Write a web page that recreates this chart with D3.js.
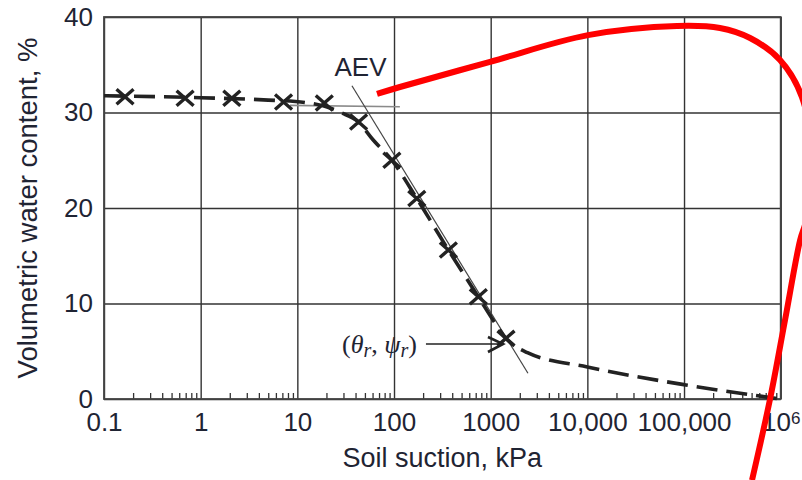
<!DOCTYPE html>
<html>
<head>
<meta charset="utf-8">
<script src="https://cdn.jsdelivr.net/npm/d3@7"></script>
<style>
  body { margin: 0; background: #fff; }
  text { font-family: "Liberation Sans", Arial, sans-serif; fill: #1f2433; }
</style>
</head>
<body>
<div class="canvas"></div>
<script>
// measured points (x marks)
const suction = [0.165, 0.69, 2.1, 7.2, 19, 43, 95, 172, 365, 745, 1440];
const theta = [31.65, 31.5, 31.5, 31.1, 31.0, 29.0, 25.0, 21.0, 15.6, 10.7, 6.35];

// fitted dashed curve
const curveSuction = [0.1, 1, 5, 12, 20, 28, 43, 60, 95, 172, 365, 745, 1100, 1440, 2400, 10000, 100000, 1e6];
const curveTheta = [31.75, 31.55, 31.3, 31.05, 30.6, 30.0, 29.0, 27.2, 25.0, 21.0, 15.6, 10.7, 8.0, 6.35, 4.85, 3.35, 1.5, 0];

// construction lines for AEV
const flatSuction = [8.4, 115];
const flatTheta = [30.75, 30.6];
const steepSuction = [36.7, 2430];
const steepTheta = [32.8, 2.7];

// residual point arrow
const arrowSuction = [214, 1340];
const arrowTheta = [5.76, 5.76];

// red hand-drawn annotation
const redSuction = [66.7, 115, 984, 10160, 84500, 235000, 482000, 984000, 1.66e6, 2.11e6, 1.83e6, 1.585e6, 1.11e6, 776000, 505000];
const redTheta = [31.94, 32.67, 35.3, 38.1, 39.06, 38.85, 37.8, 35.5, 31.6, 25.0, 18.7, 16.6, 8.3, 0, -8.5];

const xTicks = [0.1, 1, 10, 100, 1000, 10000, 100000, 1e6];
const xTickLabels = ['0.1', '1', '10', '100', '1000', '10,000', '100,000', '10'];
const yTicks = [0, 10, 20, 30, 40];

const W = 802, H = 480;
const plot = { left: 104, right: 780.7, top: 17, bottom: 399 };

const svg = d3.select('.canvas')
  .append('svg')
  .attr('width', W)
  .attr('height', H);

const x = d3.scaleLog().domain([0.1, 1e6]).range([plot.left, plot.right]);
const y = d3.scaleLinear().domain([0, 40]).range([plot.bottom, plot.top]);

const zip = (a, b) => a.map((v, i) => [v, b[i]]);

// grid + x labels
const gx = svg.append('g')
  .attr('transform', `translate(0, ${plot.bottom})`)
  .call(d3.axisBottom(x)
    .tickValues(xTicks)
    .tickSize(-(plot.bottom - plot.top))
    .tickPadding(14)
    .tickFormat((d, i) => xTickLabels[i]));

gx.select('.domain').remove();
gx.selectAll('.tick line').attr('stroke', '#333').attr('stroke-width', 1.4);
gx.selectAll('.tick text')
  .attr('font-size', 26)
  .attr('fill', '#1f2433')
  .style('font-family', '"Liberation Sans", Arial, sans-serif');
gx.selectAll('.tick text')
  .filter(d => d === 1e6)
  .append('tspan')
  .attr('dy', '-0.46em')
  .attr('font-size', 17)
  .text('6');

// minor ticks 2..9 in each decade
const minor = [];
for (let e = -1; e < 6; e++) {
  for (let m = 2; m <= 9; m++) minor.push(m * Math.pow(10, e));
}
const gm = svg.append('g')
  .attr('transform', `translate(0, ${plot.bottom})`)
  .call(d3.axisBottom(x).tickValues(minor).tickSize(-6).tickFormat(''));
gm.select('.domain').remove();
gm.selectAll('.tick line').attr('stroke', '#333').attr('stroke-width', 1.3);

const gy = svg.append('g')
  .attr('transform', `translate(${plot.left}, 0)`)
  .call(d3.axisLeft(y)
    .tickValues(yTicks)
    .tickSize(-(plot.right - plot.left))
    .tickPadding(11));
gy.select('.domain').remove();
gy.selectAll('.tick line').attr('stroke', '#333').attr('stroke-width', 1.4);
gy.selectAll('.tick text')
  .attr('font-size', 26)
  .attr('fill', '#1f2433')
  .style('font-family', '"Liberation Sans", Arial, sans-serif');

// frame
svg.append('rect')
  .attr('x', plot.left).attr('y', plot.top)
  .attr('width', plot.right - plot.left)
  .attr('height', plot.bottom - plot.top)
  .attr('fill', 'none')
  .attr('stroke', '#444')
  .attr('stroke-width', 1.8);

const line = d3.line().x(d => x(d[0])).y(d => y(d[1]));

// construction lines
svg.append('path')
  .attr('d', line(zip(flatSuction, flatTheta)))
  .attr('fill', 'none').attr('stroke', '#8a8a8a').attr('stroke-width', 1.6);
svg.append('path')
  .attr('d', line(zip(steepSuction, steepTheta)))
  .attr('fill', 'none').attr('stroke', '#444').attr('stroke-width', 1.2);

// dashed fitted curve
svg.append('path')
  .attr('d', line.curve(d3.curveMonotoneX)(zip(curveSuction, curveTheta)))
  .attr('fill', 'none')
  .attr('stroke', '#222')
  .attr('stroke-width', 3.6)
  .attr('stroke-dasharray', '21,9');

// x marks
svg.selectAll('.mark')
  .data(zip(suction, theta))
  .enter()
  .append('path')
  .attr('class', 'mark')
  .attr('transform', d => `translate(${x(d[0])}, ${y(d[1])})`)
  .attr('d', 'M-8.5,-7.5L8.5,7.5M-8.5,7.5L8.5,-7.5')
  .attr('stroke', '#222')
  .attr('stroke-width', 3.4)
  .attr('fill', 'none');

// arrow to residual point
const ax0 = x(arrowSuction[0]), ax1 = x(arrowSuction[1]), ay = y(arrowTheta[0]);
svg.append('line')
  .attr('x1', ax0).attr('x2', ax1 - 2)
  .attr('y1', ay).attr('y2', ay)
  .attr('stroke', '#222').attr('stroke-width', 1.6);
svg.append('path')
  .attr('d', `M${ax1 - 15},${ay - 7}L${ax1},${ay}L${ax1 - 15},${ay + 8}`)
  .attr('fill', 'none').attr('stroke', '#222').attr('stroke-width', 2.6);

const lbl = svg.append('text')
  .attr('x', ax0 - 9)
  .attr('y', ay + 9)
  .attr('text-anchor', 'end')
  .attr('font-size', 26)
  .style('font-family', '"Liberation Serif", "Times New Roman", serif')
  .attr('fill', '#26335a');
lbl.append('tspan').text('(');
lbl.append('tspan').attr('font-style', 'italic').text('θ');
lbl.append('tspan').attr('font-style', 'italic').attr('font-size', 20).attr('dy', 4).text('r');
lbl.append('tspan').attr('dy', -4).text(', ');
lbl.append('tspan').attr('font-style', 'italic').text('ψ');
lbl.append('tspan').attr('font-style', 'italic').attr('font-size', 20).attr('dy', 4).text('r');
lbl.append('tspan').attr('dy', -4).text(')');

// AEV label
svg.append('text')
  .attr('x', x(45))
  .attr('y', y(33.8))
  .attr('text-anchor', 'middle')
  .attr('font-size', 26)
  .text('AEV');

// axis titles
svg.append('text')
  .attr('x', (plot.left + plot.right) / 2)
  .attr('y', 467)
  .attr('text-anchor', 'middle')
  .attr('font-size', 27)
  .text('Soil suction, kPa');

svg.append('text')
  .attr('transform', `translate(37, 208) rotate(-90)`)
  .attr('text-anchor', 'middle')
  .attr('font-size', 27.5)
  .text('Volumetric water content, %');

// red annotation stroke
svg.append('path')
  .attr('d', d3.line().x(d => x(d[0])).y(d => y(d[1]))
    .curve(d3.curveCatmullRom.alpha(0.5))(zip(redSuction, redTheta)))
  .attr('fill', 'none')
  .attr('stroke', '#ff0000')
  .attr('stroke-width', 6);
</script>
</body>
</html>
